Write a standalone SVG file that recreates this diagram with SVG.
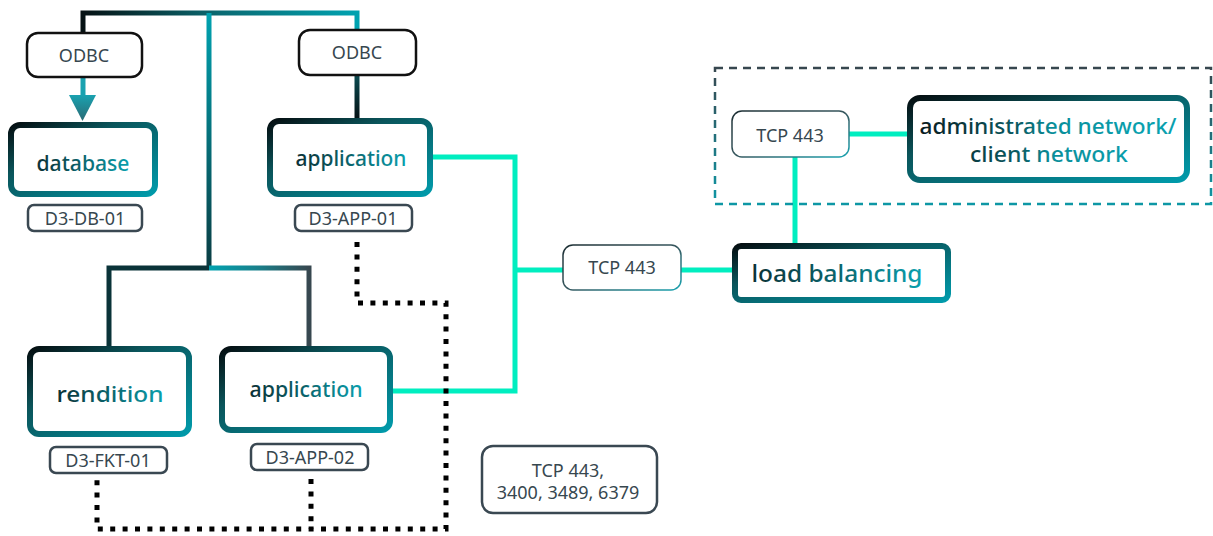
<svg xmlns="http://www.w3.org/2000/svg" width="1213" height="536" viewBox="0 0 1213 536">
<defs>
<linearGradient id="gNode" x1="0" y1="0" x2="1" y2="1">
<stop offset="0" stop-color="#050f12"/>
<stop offset="0.35" stop-color="#0a555b"/>
<stop offset="1" stop-color="#009aaa"/>
</linearGradient>
<linearGradient id="gText" x1="0" y1="0" x2="1" y2="0">
<stop offset="0" stop-color="#0b3136"/>
<stop offset="0.45" stop-color="#0a6068"/>
<stop offset="1" stop-color="#0aa0ae"/>
</linearGradient>
<linearGradient id="gThin" x1="0" y1="0" x2="1" y2="1">
<stop offset="0" stop-color="#1c2e33"/>
<stop offset="0.5" stop-color="#37575e"/>
<stop offset="1" stop-color="#1aa3b0"/>
</linearGradient>
<linearGradient id="gDash" x1="0" y1="0" x2="0" y2="1">
<stop offset="0" stop-color="#37474f"/>
<stop offset="1" stop-color="#0e97a5"/>
</linearGradient>
<linearGradient id="gBus" gradientUnits="userSpaceOnUse" x1="83" y1="0" x2="357" y2="0">
<stop offset="0" stop-color="#061214"/>
<stop offset="0.5" stop-color="#0a6a72"/>
<stop offset="1" stop-color="#00a2b0"/>
</linearGradient>
<linearGradient id="gCenter" gradientUnits="userSpaceOnUse" x1="0" y1="13" x2="0" y2="268">
<stop offset="0" stop-color="#00a2b0"/>
<stop offset="1" stop-color="#0a3c42"/>
</linearGradient>
<linearGradient id="gRight" gradientUnits="userSpaceOnUse" x1="0" y1="76" x2="0" y2="121">
<stop offset="0" stop-color="#0a4a50"/>
<stop offset="1" stop-color="#050f12"/>
</linearGradient>
<linearGradient id="gHRight" gradientUnits="userSpaceOnUse" x1="209" y1="0" x2="309" y2="0">
<stop offset="0" stop-color="#00a2b0"/>
<stop offset="0.5" stop-color="#1a7f8a"/>
<stop offset="1" stop-color="#37474f"/>
</linearGradient>
<linearGradient id="gArrow" x1="0" y1="0" x2="0" y2="1">
<stop offset="0" stop-color="#1aa2b0"/>
<stop offset="1" stop-color="#2a6a74"/>
</linearGradient>
<linearGradient id="gAdmin" gradientUnits="userSpaceOnUse" x1="920" y1="0" x2="1140" y2="0">
<stop offset="0" stop-color="#081c20"/>
<stop offset="0.45" stop-color="#0a5c64"/>
<stop offset="0.6" stop-color="#0a8e9a"/>
<stop offset="1" stop-color="#0aa0ae"/>
</linearGradient>
<style>
.node{fill:#fff;stroke:url(#gNode);stroke-width:6}
.title{font-family:"Noto Sans","Open Sans",sans-serif;font-weight:500;fill:url(#gText);text-anchor:middle}
.lbl{fill:#fff;stroke:#3a4852;stroke-width:2.5}
.lbltext{font-family:"Noto Sans","Open Sans",sans-serif;font-size:18px;fill:#37474f;text-anchor:middle}
.odbc{fill:#fff;stroke:#111;stroke-width:2.5}
.tcp{fill:#fff;stroke:url(#gThin);stroke-width:1.5}
.green{fill:none;stroke:#00eec0;stroke-width:5}
.dots{fill:none;stroke:#000;stroke-width:5;stroke-dasharray:5 7.4}
</style>
</defs>
<g id="connectors">
<path d="M83,33 V13 H357 V30" fill="none" stroke="url(#gBus)" stroke-width="5"/>
<path d="M209,13 V268" fill="none" stroke="url(#gCenter)" stroke-width="5"/>
<path d="M357,76 V121" fill="none" stroke="url(#gRight)" stroke-width="5"/>
<path d="M109,349 V268 H209" fill="none" stroke="#0a3338" stroke-width="5"/>
<path d="M209,268 H309 V349" fill="none" stroke="url(#gHRight)" stroke-width="5"/>
<path d="M83,78 V96" fill="none" stroke="#1aa2b0" stroke-width="5"/>
<polygon points="69,95 96,95 82.5,121" fill="url(#gArrow)"/>
<path class="green" d="M430,157 H515 V391 H390"/>
<path class="green" d="M515,270 H563"/>
<path class="green" d="M681,270 H735"/>
<path class="green" d="M849,134 H910"/>
<path class="green" d="M795,157 V246"/>
<path class="dots" d="M357,242 V303 H446 V529 H97 V479"/>
<path class="dots" d="M311,479 V529"/>
</g>
<g id="zone">
<rect x="715" y="68" width="496" height="136" fill="none" stroke="url(#gDash)" stroke-width="2.5" stroke-dasharray="8 6"/>
</g>
<g id="odbc1">
<rect class="odbc" x="27" y="33" width="115" height="44" rx="11"/>
<text class="lbltext" x="84" y="62">ODBC</text>
</g>
<g id="odbc2">
<rect class="odbc" x="299" y="30" width="117" height="45" rx="11"/>
<text class="lbltext" x="357" y="59">ODBC</text>
</g>
<g id="database">
<rect class="node" x="11" y="125" width="144" height="69" rx="9"/>
<text class="title" x="83" y="171" style="font-size:21px" textLength="93" lengthAdjust="spacingAndGlyphs">database</text>
</g>
<g id="db-label">
<rect class="lbl" x="28" y="205" width="114" height="26" rx="6"/>
<text class="lbltext" x="85" y="225">D3-DB-01</text>
</g>
<g id="application1">
<rect class="node" x="270" y="121" width="160" height="73" rx="9"/>
<text class="title" x="351" y="166" style="font-size:21px" textLength="111" lengthAdjust="spacingAndGlyphs">application</text>
</g>
<g id="app1-label">
<rect class="lbl" x="295" y="205" width="117" height="26" rx="6"/>
<text class="lbltext" x="353" y="225">D3-APP-01</text>
</g>
<g id="rendition">
<rect class="node" x="30" y="349" width="159" height="85" rx="9"/>
<text class="title" x="110" y="402" style="font-size:22px" textLength="107" lengthAdjust="spacingAndGlyphs">rendition</text>
</g>
<g id="fkt-label">
<rect class="lbl" x="50" y="447" width="117" height="26" rx="6"/>
<text class="lbltext" x="108" y="467">D3-FKT-01</text>
</g>
<g id="application2">
<rect class="node" x="222" y="349" width="168" height="81" rx="9"/>
<text class="title" x="306" y="397" style="font-size:21px" textLength="113" lengthAdjust="spacingAndGlyphs">application</text>
</g>
<g id="app2-label">
<rect class="lbl" x="251" y="444" width="117" height="26" rx="6"/>
<text class="lbltext" x="310" y="464">D3-APP-02</text>
</g>
<g id="tcp-mid">
<rect class="tcp" x="563" y="245" width="118" height="45" rx="10"/>
<text class="lbltext" x="622" y="274">TCP 443</text>
</g>
<g id="load-balancing">
<rect class="node" x="735" y="246" width="213" height="54" rx="6"/>
<text class="title" x="837" y="282" style="font-size:23px" textLength="171" lengthAdjust="spacingAndGlyphs">load balancing</text>
</g>
<g id="tcp-top">
<rect class="tcp" x="732" y="111" width="117" height="46" rx="10"/>
<text class="lbltext" x="790" y="142">TCP 443</text>
</g>
<g id="admin-network">
<rect class="node" x="910" y="98" width="277" height="82" rx="10"/>
<text class="title" x="1048" y="134" style="font-size:21px;fill:url(#gAdmin)" textLength="257" lengthAdjust="spacingAndGlyphs">administrated network/</text>
<text class="title" x="1049" y="162" style="font-size:21px;fill:url(#gAdmin)" textLength="158" lengthAdjust="spacingAndGlyphs">client network</text>
</g>
<g id="ports">
<rect x="482" y="446" width="175" height="67" rx="11" fill="#fff" stroke="#3a4852" stroke-width="2.5"/>
<text class="lbltext" x="568" y="477">TCP 443,</text>
<text class="lbltext" x="568" y="499">3400, 3489, 6379</text>
</g>
</svg>
